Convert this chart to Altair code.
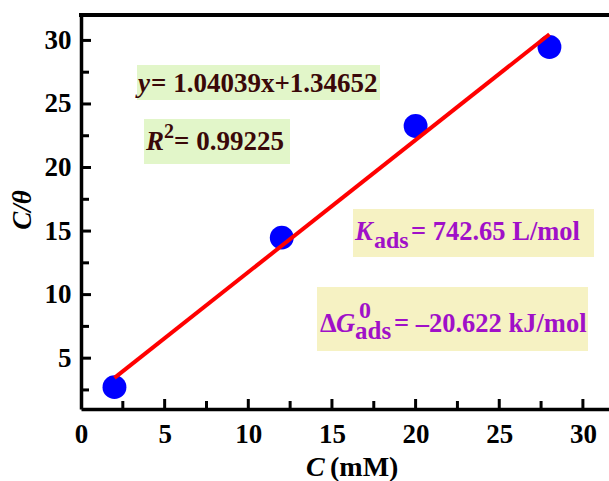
import altair as alt
import pandas as pd

# ---- data ----
conc = [2, 12, 20, 28]
c_theta = [2.72, 14.48, 23.27, 29.48]

x_tick_labels = [0, 5, 10, 15, 20, 25, 30]
y_tick_labels = [5, 10, 15, 20, 25, 30]
x_major = [5, 10, 15, 20, 25, 30]
x_minor = [2.5, 7.5, 12.5, 17.5, 22.5, 27.5]
y_major = [5, 10, 15, 20, 25, 30]
y_minor = [2.5, 7.5, 12.5, 17.5, 22.5, 27.5]
x_domain = [0, 31.56]
y_domain = [1, 32]

x_title = ["C", "(mM)"]
y_title = ["C/θ"]
eq_text = ["y", "= 1.04039x+1.34652"]
r2_text = ["R", "2", "= 0.99225"]
k_text = ["K", "ads", "= 742.65 L/mol"]
g_text = ["Δ", "G", "0", "ads", "= –20.622 kJ/mol"]

# ---- layout / style ----
W, H = 528, 394
FONT = "Liberation Serif"
GREEN = "#e2f6c9"
YELLOW = "#f6f2c3"
PURPLE = "#a010c8"
MAROON = "#3a0808"

df = pd.DataFrame({"C": conc, "Ctheta": c_theta})
xscale = alt.Scale(domain=x_domain, nice=False, zero=False)
yscale = alt.Scale(domain=y_domain, nice=False, zero=False)

axis_common = dict(title=None, ticks=False, tickSize=0, domainWidth=3.5,
                   domainColor="black", labelFont=FONT, labelFontSize=27,
                   labelFontWeight="bold", labelColor="black", grid=False,
                   labelOverlap=False, labelFlush=False)
x_axis = alt.Axis(values=x_tick_labels, labelPadding=12, **axis_common)
y_axis = alt.Axis(values=y_tick_labels, labelPadding=10, **axis_common)


def X(field="C"):
    return alt.X(f"{field}:Q", scale=xscale, axis=x_axis)


def Y(field="Ctheta"):
    return alt.Y(f"{field}:Q", scale=yscale, axis=y_axis)


points = alt.Chart(df).mark_circle(size=570, color="#0000ff", opacity=1).encode(
    x=X(), y=Y())

fit = alt.Chart(df).transform_regression("C", "Ctheta").mark_line(
    color="#ff0000", strokeWidth=4
).encode(x=X(), y=Y())


def xticks(vals, length):
    return alt.Chart(pd.DataFrame({"C": vals})).mark_rule(color="black", strokeWidth=3).encode(
        x=X(), y=alt.value(H), y2=alt.value(H - length))


def yticks(vals, length):
    return alt.Chart(pd.DataFrame({"Ctheta": vals})).mark_rule(color="black", strokeWidth=3).encode(
        y=Y(), x=alt.value(0), x2=alt.value(length))


one = pd.DataFrame({"k": [0]})
top_border = alt.Chart(one).mark_rule(color="black", strokeWidth=4).encode(
    x=alt.value(-2), x2=alt.value(W + 2), y=alt.value(0))


def box(x1, x2, y1, y2, col):
    return alt.Chart(one).mark_rect(color=col, opacity=1).encode(
        x=alt.value(x1), x2=alt.value(x2), y=alt.value(y1), y2=alt.value(y2))


def txt(s, x, y, size, color="black", italic=False, angle=0, align="left", baseline="alphabetic"):
    kw = dict(font=FONT, fontSize=size, fontWeight="bold", color=color,
              align=align, baseline=baseline)
    if italic:
        kw["fontStyle"] = "italic"
    if angle:
        kw["angle"] = angle
    return alt.Chart(pd.DataFrame({"t": [s]})).mark_text(**kw).encode(
        x=alt.value(x), y=alt.value(y), text="t:N")


layers = [
    points,
    box(56, 299, 50, 85, GREEN),
    box(63, 209, 104, 149, GREEN),
    box(272, 513, 194, 242, YELLOW),
    box(236, 507, 272, 336, YELLOW),
    fit,
    xticks(x_major, 10), xticks(x_minor, 8),
    yticks(y_major, 10), yticks(y_minor, 8),
    top_border,
    # equation
    txt(eq_text[0], 57, 76.5, 27, MAROON, italic=True),
    txt(eq_text[1], 70, 76.5, 27, MAROON),
    # R^2
    txt(r2_text[0], 65, 135, 27, MAROON, italic=True),
    txt(r2_text[1], 83, 123, 20, MAROON),
    txt(r2_text[2], 93, 135, 27, MAROON),
    # K_ads
    txt(k_text[0], 274, 225, 26.5, PURPLE, italic=True),
    txt(k_text[1], 293, 233, 24, PURPLE),
    txt(k_text[2], 330, 225, 26.5, PURPLE),
    # Delta G
    txt(g_text[0], 239, 316.5, 26.5, PURPLE),
    txt(g_text[1], 255, 316.5, 26.5, PURPLE, italic=True),
    txt(g_text[2], 278, 303, 24, PURPLE),
    txt(g_text[3], 274, 324, 25, PURPLE),
    txt(g_text[4], 313, 316.5, 26.5, PURPLE),
    # axis titles
    txt(x_title[0], 225, 461, 28, italic=True),
    txt(x_title[1], 249, 461, 28),
    txt(y_title[0], -58, 195, 27, italic=True, angle=270, align="center", baseline="middle"),
]

chart = alt.layer(*layers).properties(
    width=W, height=H,
    padding={"left": 81, "top": 15, "right": 0, "bottom": 72},
    autosize=alt.AutoSizeParams(type="none"),
).configure_view(stroke=None)

chart.save("out.html", embed_options={"renderer": "svg", "actions": False})
